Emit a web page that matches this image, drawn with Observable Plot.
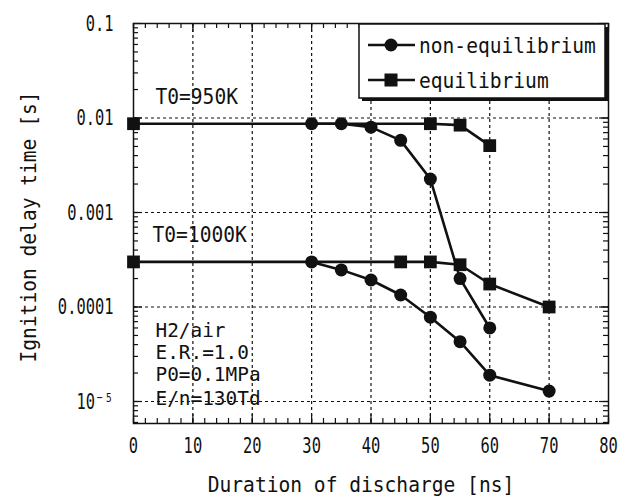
<!DOCTYPE html>
<html><head><meta charset="utf-8">
<script src="https://cdn.jsdelivr.net/npm/d3@7"></script>
<script src="https://cdn.jsdelivr.net/npm/@observablehq/plot@0.6"></script>
<style>body{margin:0;background:#fff}</style>
</head><body><div id="chart"></div>
<script>
// ---- data ----
const xTicks = [0, 10, 20, 30, 40, 50, 60, 70, 80];
const yTicks = [0.1, 0.01, 0.001, 0.0001, 0.00001];
const yTickLabels = ["0.1", "0.01", "0.001", "0.0001", "10⁻⁵"];
const seriesNames = ["non-equilibrium", "equilibrium"];

const neq950X = [30, 35, 40, 45, 50, 55, 60];
const neq950Y = [0.0087, 0.0087, 0.0080, 0.0058, 0.00226, 0.0002, 0.00006];
const eq950X = [0, 50, 55, 60];
const eq950Y = [0.0087, 0.0087, 0.0084, 0.0051];
const neq1000X = [30, 35, 40, 45, 50, 55, 60, 70];
const neq1000Y = [0.0003, 0.000247, 0.000193, 0.000134, 0.000078, 0.000043, 0.000019, 0.0000129];
const eq1000X = [0, 45, 50, 55, 60, 70];
const eq1000Y = [0.0003, 0.0003, 0.0003, 0.00028, 0.000175, 0.0001];

const annoText = ["T0=950K", "T0=1000K", "H2/air", "E.R.=1.0", "P0=0.1MPa", "E/n=130Td"];
const xTitle = "Duration of discharge [ns]";
const yTitle = "Ignition delay time [s]";

// ---- layout ----
const W = 628, H = 498, mL = 133, mR = 20, mT = 23, mB = 75;
const fw = W - mL - mR, fh = H - mT - mB;
const ink = "#111";
const font = "DejaVu Sans Mono";

const rows = [];
function add(xs, ys, type, temp) { xs.forEach((x, i) => rows.push({x, y: ys[i], type, group: type + temp})); }
add(neq950X, neq950Y, seriesNames[0], "950");
add(eq950X, eq950Y, seriesNames[1], "950");
add(neq1000X, neq1000Y, seriesNames[0], "1000");
add(eq1000X, eq1000Y, seriesNames[1], "1000");

const annos = [
  {t: annoText[0], x: 3.7, y: 0.0165},
  {t: annoText[1], x: 3.2, y: 0.000585},
  {t: annoText[2], x: 3.7, y: 0.0000564},
  {t: annoText[3], x: 3.7, y: 0.000033},
  {t: annoText[4], x: 3.7, y: 0.0000193},
  {t: annoText[5], x: 3.7, y: 0.0000108}
];

const minorX = d3.range(0, 81, 2);
const minorY = [];
for (let e = -6; e <= -2; e++) for (let k = 1; k <= 9; k++) {
  const v = k * Math.pow(10, e);
  if (v >= 5.85e-6 && v <= 0.1) minorY.push(v);
}

const tickStyle = {stroke: ink, strokeWidth: 1.2};
const plot = Plot.plot({
  width: W, height: H, marginLeft: mL, marginRight: mR, marginTop: mT, marginBottom: mB,
  x: {domain: [0, 80]},
  y: {type: "log", domain: [5.85e-6, 0.1]},
  style: {fontFamily: font, fontSize: "22px", color: ink, background: "white"},
  marks: [
    Plot.ruleX(xTicks.slice(1, -1), {x: d => d, stroke: ink, strokeWidth: 1.2, strokeDasharray: "3,3"}),
    Plot.ruleY(yTicks.slice(1), {y: d => d, stroke: ink, strokeWidth: 1.2, strokeDasharray: "3,3"}),
    // inner ticks
    Plot.tickX(minorX, {x: d => d, insetTop: fh - 5, ...tickStyle}),
    Plot.tickX(minorX, {x: d => d, insetBottom: fh - 5, ...tickStyle}),
    Plot.tickX(xTicks, {x: d => d, insetTop: fh - 9, ...tickStyle}),
    Plot.tickX(xTicks, {x: d => d, insetBottom: fh - 9, ...tickStyle}),
    Plot.tickY(minorY, {y: d => d, insetRight: fw - 5, ...tickStyle}),
    Plot.tickY(minorY, {y: d => d, insetLeft: fw - 5, ...tickStyle}),
    Plot.tickY(yTicks, {y: d => d, insetRight: fw - 9, ...tickStyle}),
    Plot.tickY(yTicks, {y: d => d, insetLeft: fw - 9, ...tickStyle}),
    Plot.axisX({ticks: xTicks, tickSize: 0, tickPadding: 14, label: null}),
    Plot.axisY({ticks: yTicks, tickSize: 0, tickPadding: 20, label: null,
      tickFormat: d => yTickLabels[yTicks.indexOf(d)]}),
    Plot.line(rows, {x: "x", y: "y", z: "group", stroke: ink, strokeWidth: 2.6}),
    Plot.dot(rows.filter(d => d.type === seriesNames[0]), {x: "x", y: "y", r: 6.5, fill: ink, symbol: "circle"}),
    Plot.dot(rows.filter(d => d.type === seriesNames[1]), {x: "x", y: "y", r: 7.2, fill: ink, symbol: "square"}),
    Plot.text(annos.slice(0, 2), {x: "x", y: "y", text: "t", textAnchor: "start", fill: ink}),
    Plot.text(annos.slice(2), {x: "x", y: "y", text: "t", textAnchor: "start", fill: ink, fontSize: 20}),
    Plot.frame({stroke: ink, strokeWidth: 1.5})
  ]
});
document.getElementById("chart").appendChild(plot);

const svg = d3.select(plot);

// ---- axis titles ----
svg.append("text").attr("x", 361).attr("y", 484).attr("dy", "0.35em")
  .attr("text-anchor", "middle").attr("fill", ink).attr("font-family", font).attr("font-size", 22)
  .text(xTitle);
svg.append("text").attr("transform", "translate(28,227) rotate(-90)").attr("dy", "0.35em")
  .attr("text-anchor", "middle").attr("fill", ink).attr("font-family", font).attr("font-size", 22)
  .text(yTitle);

// ---- legend ----
const lg = svg.append("g");
lg.append("rect").attr("x", 362).attr("y", 27).attr("width", 246).attr("height", 74).attr("fill", ink);
lg.append("rect").attr("x", 359).attr("y", 24).attr("width", 246).attr("height", 74)
  .attr("fill", "white").attr("stroke", ink).attr("stroke-width", 1.5);
const rowsY = [45, 80];
seriesNames.forEach((name, i) => {
  const yy = rowsY[i];
  lg.append("line").attr("x1", 368).attr("x2", 415).attr("y1", yy).attr("y2", yy)
    .attr("stroke", ink).attr("stroke-width", 2.6);
  if (i === 0) lg.append("circle").attr("cx", 391).attr("cy", yy).attr("r", 6.5).attr("fill", ink);
  else lg.append("rect").attr("x", 391 - 6.5).attr("y", yy - 6.5).attr("width", 13).attr("height", 13).attr("fill", ink);
  lg.append("text").attr("x", 419).attr("y", yy).attr("dy", "0.35em").attr("fill", ink)
    .attr("text-anchor", "start")
    .attr("font-family", font).attr("font-size", 22).text(name);
});

// ---- condense text to mimic narrow gothic font ----
const tickSel = new Set();
svg.selectAll('g[aria-label$="tick label"] text').each(function() { tickSel.add(this); });
svg.selectAll("text").each(function() {
  const fs = parseFloat(window.getComputedStyle(this).fontSize);
  const f = tickSel.has(this) ? 0.7 : (fs < 21 ? 0.97 : 0.89);
  const w = this.getComputedTextLength();
  this.setAttribute("textLength", w * f);
  this.setAttribute("lengthAdjust", "spacingAndGlyphs");
});
</script>
</body></html>
